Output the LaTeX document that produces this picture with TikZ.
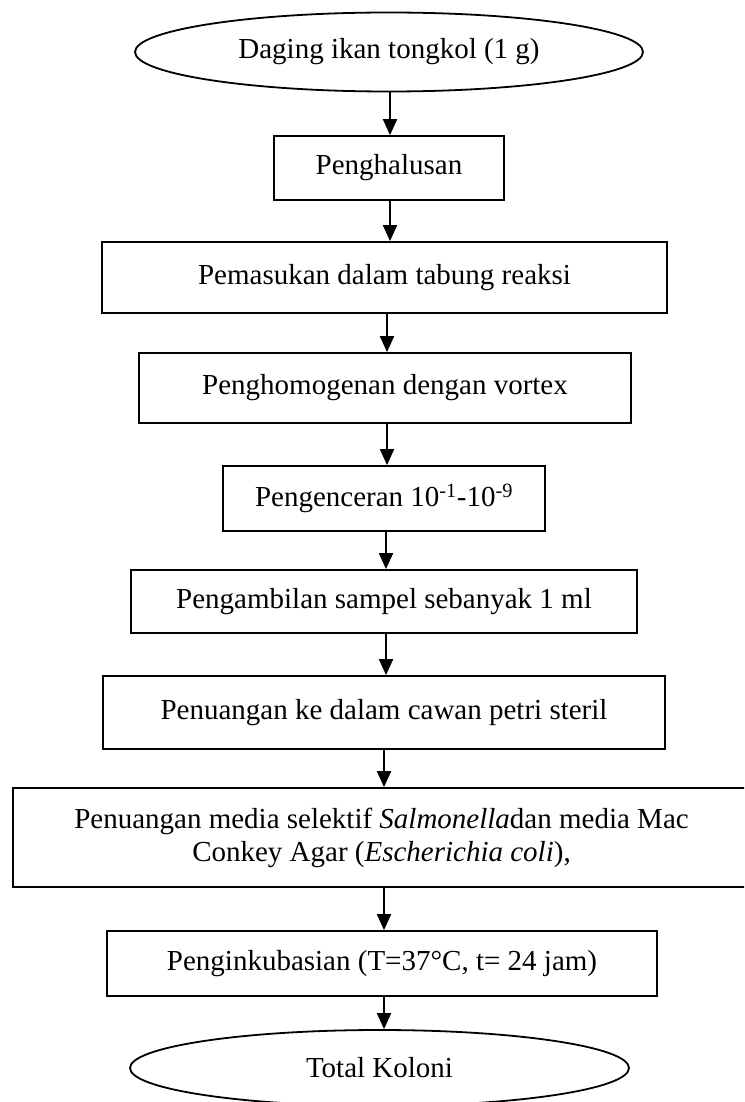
\documentclass[tikz,border=0pt]{standalone}
\usepackage{fontspec}
\setmainfont{Liberation Serif}
\usetikzlibrary{arrows.meta,shapes.geometric}
\begin{document}
\begin{tikzpicture}[x=1pt,y=-1pt,
  box/.style={draw,line width=1.8pt,rectangle,inner sep=0pt,align=center,font=\fontsize{29}{33}\selectfont},
  oval/.style={draw,line width=1.8pt,ellipse,inner sep=0pt,align=center,font=\fontsize{29}{33}\selectfont},
  arr/.style={line width=2pt,-{Triangle[width=14pt,length=16pt]}}]
\useasboundingbox (0,0) rectangle (744,1102);
\clip (0,0) rectangle (744,1102);
\coordinate (a1) at (390,0);
\coordinate (a2) at (387,0);
\coordinate (a3) at (386,0);
\coordinate (a4) at (384,0);
\node[oval,minimum width=508,minimum height=79] (e1) at (389,52) {Daging ikan tongkol (1 g)};
\node[box,minimum width=230,minimum height=64] (b1) at (389,168) {Penghalusan};
\node[box,minimum width=565,minimum height=71] (b2) at (384.5,277.5) {Pemasukan dalam tabung reaksi};
\node[box,minimum width=492,minimum height=70] (b3) at (385,388) {Penghomogenan dengan vortex};
\node[box,minimum width=322,minimum height=65] (b4) at (384,498.5) {Pengenceran 10\textsuperscript{-1}-10\textsuperscript{-9}};
\node[box,minimum width=506,minimum height=63] (b5) at (384,601.5) {Pengambilan sampel sebanyak 1 ml};
\node[box,minimum width=562,minimum height=73] (b6) at (384,712.5) {Penuangan ke dalam cawan petri steril};
\node[box,minimum width=737,minimum height=99] (b7) at (381.5,837.5) {Penuangan media selektif \textit{Salmonella}dan media Mac\\Conkey Agar (\textit{Escherichia coli}),};
\node[box,minimum width=550,minimum height=65] (b8) at (382,963.5) {Penginkubasian (T=37°C, t= 24 jam)};
\node[oval,minimum width=499,minimum height=76] (e2) at (379.5,1068) {Total Koloni};
\draw[arr] (e1.south -| a1) -- (b1.north -| a1);
\draw[arr] (b1.south -| a1) -- (b2.north -| a1);
\draw[arr] (b2.south -| a2) -- (b3.north -| a2);
\draw[arr] (b3.south -| a2) -- (b4.north -| a2);
\draw[arr] (b4.south -| a3) -- (b5.north -| a3);
\draw[arr] (b5.south -| a3) -- (b6.north -| a3);
\draw[arr] (b6.south -| a4) -- (b7.north -| a4);
\draw[arr] (b7.south -| a4) -- (b8.north -| a4);
\draw[arr] (b8.south -| a4) -- (e2.north -| a4);
\end{tikzpicture}
\end{document}
